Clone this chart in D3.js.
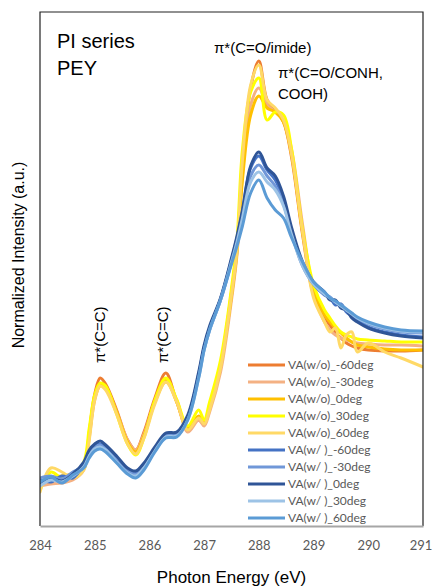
<!DOCTYPE html>
<html>
<head>
<meta charset="utf-8">
<script src="https://cdn.jsdelivr.net/npm/d3@7"></script>
<style>
  body { margin: 0; background: #fff; }
  svg { display: block; }
</style>
</head>
<body>
<div id="chart"></div>
<script>
const w = 433, h = 586;
const m = {l: 40, r: 10, t: 12, b: 60};

// photon energy grid (eV)
const energies = [284.0, 284.2, 284.4, 284.6, 284.8, 284.9, 285.0, 285.1, 285.2, 285.4, 285.6, 285.75, 285.9, 286.1, 286.3,
  286.5, 286.7, 286.9, 287.0, 287.1, 287.3, 287.5, 287.6, 287.7, 287.85, 288.0, 288.15, 288.3, 288.45, 288.6,
  288.8, 289.0, 289.2, 289.3, 289.4, 289.5, 289.6, 289.7, 289.8, 290.0, 290.3, 290.6, 291.0];

// normalized intensity (a.u.)
const woM60 = [0.42,0.46,0.48,0.50,0.58,0.94,1.32,1.48,1.42,1.16,0.86,0.76,0.94,1.28,1.53,1.24,0.98,1.06,1.02,1.21,1.61,2.34,2.78,3.61,4.38,4.65,4.26,4.16,4.04,3.68,2.91,2.31,2.08,2.01,1.93,1.88,1.83,1.80,1.78,1.76,1.75,1.75,1.76];
const woM30 = [0.40,0.42,0.43,0.46,0.56,0.88,1.26,1.40,1.38,1.14,0.86,0.76,0.92,1.24,1.44,1.26,0.94,1.06,1.00,1.14,1.54,2.26,2.71,3.51,4.21,4.38,4.21,4.14,4.06,3.76,3.01,2.34,2.04,1.96,1.91,1.88,1.86,1.84,1.83,1.82,1.81,1.81,1.80];
const wo0 = [0.44,0.48,0.50,0.52,0.60,0.91,1.28,1.41,1.38,1.14,0.84,0.74,0.90,1.24,1.46,1.24,0.98,1.10,1.04,1.18,1.60,2.30,2.74,3.46,4.11,4.30,4.18,4.14,4.04,3.71,2.94,2.36,2.11,2.04,1.98,1.93,1.88,1.84,1.81,1.79,1.77,1.76,1.76];
const wo30 = [0.36,0.54,0.48,0.50,0.64,0.98,1.31,1.43,1.40,1.12,0.82,0.71,0.88,1.26,1.48,1.26,1.00,1.16,1.06,1.24,1.66,2.38,2.86,3.76,4.34,4.48,4.06,4.14,4.11,3.76,2.96,2.41,2.16,2.08,2.00,1.94,1.91,1.89,1.87,1.86,1.85,1.84,1.84];
const wo60 = [0.34,0.58,0.54,0.48,0.56,0.86,1.26,1.40,1.36,1.12,0.82,0.72,0.88,1.22,1.44,1.24,0.96,1.08,1.02,1.16,1.58,2.31,2.76,3.66,4.41,4.61,4.26,4.18,4.06,3.71,2.94,2.28,2.04,1.94,1.98,1.78,1.91,1.94,1.74,1.83,1.74,1.68,1.59];
const wM60 = [0.46,0.44,0.50,0.48,0.62,0.74,0.80,0.82,0.79,0.68,0.56,0.53,0.61,0.77,0.91,0.93,1.09,1.52,1.79,1.98,2.27,2.66,2.88,3.14,3.58,3.70,3.56,3.46,3.26,2.94,2.61,2.42,2.31,2.28,2.21,2.22,2.14,2.10,2.06,1.99,1.94,1.91,1.89];
const wM30 = [0.48,0.50,0.47,0.54,0.60,0.72,0.79,0.81,0.77,0.66,0.56,0.52,0.60,0.76,0.90,0.92,1.08,1.50,1.77,1.96,2.26,2.64,2.86,3.11,3.50,3.61,3.50,3.40,3.22,2.92,2.60,2.42,2.32,2.29,2.24,2.21,2.16,2.12,2.08,2.02,1.97,1.94,1.93];
const w0 = [0.42,0.48,0.45,0.52,0.64,0.76,0.82,0.85,0.81,0.70,0.58,0.55,0.63,0.79,0.93,0.94,1.11,1.54,1.81,2.00,2.28,2.68,2.90,3.16,3.60,3.74,3.58,3.50,3.30,2.98,2.64,2.44,2.34,2.26,2.26,2.18,2.16,2.08,2.04,1.98,1.93,1.90,1.88];
const w30 = [0.40,0.46,0.44,0.50,0.59,0.70,0.77,0.79,0.76,0.64,0.53,0.50,0.58,0.75,0.89,0.90,1.06,1.48,1.76,1.96,2.26,2.64,2.84,3.08,3.44,3.54,3.44,3.36,3.20,2.91,2.60,2.42,2.32,2.28,2.24,2.20,2.16,2.12,2.08,2.03,1.98,1.95,1.94];
const w60 = [0.44,0.49,0.43,0.51,0.58,0.68,0.75,0.77,0.74,0.63,0.52,0.48,0.56,0.74,0.88,0.89,1.06,1.48,1.76,1.96,2.26,2.62,2.80,3.00,3.33,3.46,3.28,3.16,3.08,2.88,2.64,2.44,2.34,2.28,2.25,2.21,2.17,2.13,2.09,2.04,1.99,1.96,1.95];

const seriesNames = ["VA(w/o)_-60deg", "VA(w/o)_-30deg", "VA(w/o)_0deg", "VA(w/o)_30deg", "VA(w/o)_60deg",
  "VA(w/ )_-60deg", "VA(w/ )_-30deg", "VA(w/ )_0deg", "VA(w/ )_30deg", "VA(w/ )_60deg"];
const seriesValues = [woM60, woM30, wo0, wo30, wo60, wM60, wM30, w0, w30, w60];
const colors = ["#ED7D31", "#F4B183", "#FFC000", "#FFFF00", "#FFD966",
  "#4472C4", "#7097D8", "#2F5597", "#9DC3E6", "#5B9BD5"];

const xTicks = [284, 285, 286, 287, 288, 289, 290, 291];
const yDomain = [0, 5.14];

const x = d3.scaleLinear().domain([284, 291]).range([m.l, w - m.r]);
const y = d3.scaleLinear().domain(yDomain).range([h - m.b, m.t]);

const svg = d3.select("#chart").append("svg").attr("width", w).attr("height", h);

svg.append("defs").append("clipPath").attr("id", "clip")
  .append("rect")
  .attr("x", m.l).attr("y", m.t)
  .attr("width", w - m.l - m.r).attr("height", h - m.t - m.b);

const line = d3.line()
  .x((d, i) => x(energies[i]))
  .y(d => y(d))
  .curve(d3.curveCatmullRom.alpha(0.5));

svg.append("g")
  .attr("clip-path", "url(#clip)")
  .selectAll("path")
  .data(seriesValues)
  .join("path")
  .attr("d", d => line(d))
  .attr("fill", "none")
  .attr("stroke", (d, i) => colors[i])
  .attr("stroke-width", 3)
  .attr("stroke-linejoin", "round")
  .attr("stroke-linecap", "round");

// plot frame
svg.append("path")
  .attr("d", `M${m.l},${h - m.b} V${m.t} H${w - m.r} V${h - m.b}`)
  .attr("fill", "none").attr("stroke", "#222").attr("stroke-width", 1.2);

// x axis
const xAxis = svg.append("g")
  .attr("transform", `translate(0,${h - m.b})`)
  .call(d3.axisBottom(x).tickValues(xTicks).tickFormat(d3.format("d")).tickSize(0).tickPadding(15));
xAxis.select(".domain").attr("stroke", "#a6a6a6").attr("stroke-width", 2);
xAxis.selectAll("text")
  .attr("font-family", "Lato, 'Open Sans', sans-serif")
  .attr("font-size", 13)
  .attr("fill", "#595959")
  .attr("dx", d => d === 291 ? -2.5 : 0);

svg.append("text")
  .attr("x", (m.l + w - m.r) / 2).attr("y", 583)
  .attr("text-anchor", "middle")
  .attr("font-family", "'Liberation Sans', Arial, sans-serif")
  .attr("font-size", 17)
  .text("Photon Energy (eV)");

svg.append("text")
  .attr("transform", `translate(24,255) rotate(-90)`)
  .attr("text-anchor", "middle")
  .attr("font-family", "'Liberation Sans', Arial, sans-serif")
  .attr("font-size", 16)
  .text("Normalized Intensity (a.u.)");

// annotations
const font = "'Liberation Sans', Arial, sans-serif";
svg.append("text").attr("x", 57).attr("y", 48)
  .attr("font-family", font).attr("font-size", 20).text("PI series");
svg.append("text").attr("x", 57).attr("y", 75)
  .attr("font-family", font).attr("font-size", 20).text("PEY");

svg.append("text").attr("x", x(287.18)).attr("y", y(4.73))
  .attr("font-family", font).attr("font-size", 15).text("π*(C=O/imide)");
svg.append("text").attr("x", x(288.35)).attr("y", y(4.48))
  .attr("font-family", font).attr("font-size", 15).text("π*(C=O/CONH,");
svg.append("text").attr("x", x(288.35)).attr("y", y(4.27))
  .attr("font-family", font).attr("font-size", 15).text("COOH)");

[285.1, 286.25].forEach(e => {
  svg.append("text")
    .attr("transform", `translate(${x(e) + 5},${y(1.63)}) rotate(-90)`)
    .attr("font-family", font).attr("font-size", 15)
    .text("π*(C=C)");
});

// legend
const legend = svg.append("g")
  .selectAll("g")
  .data(seriesNames)
  .join("g")
  .attr("transform", (d, i) => `translate(248,${365 + i * 17})`);

legend.append("line")
  .attr("x1", 0).attr("x2", 37)
  .attr("stroke", (d, i) => colors[i])
  .attr("stroke-width", 3);

legend.append("text")
  .attr("x", 40).attr("dy", "0.35em")
  .attr("font-family", "Lato, 'Open Sans', sans-serif")
  .attr("font-size", 12)
  .attr("fill", "#595959")
  .text(d => d);
</script>
</body>
</html>
